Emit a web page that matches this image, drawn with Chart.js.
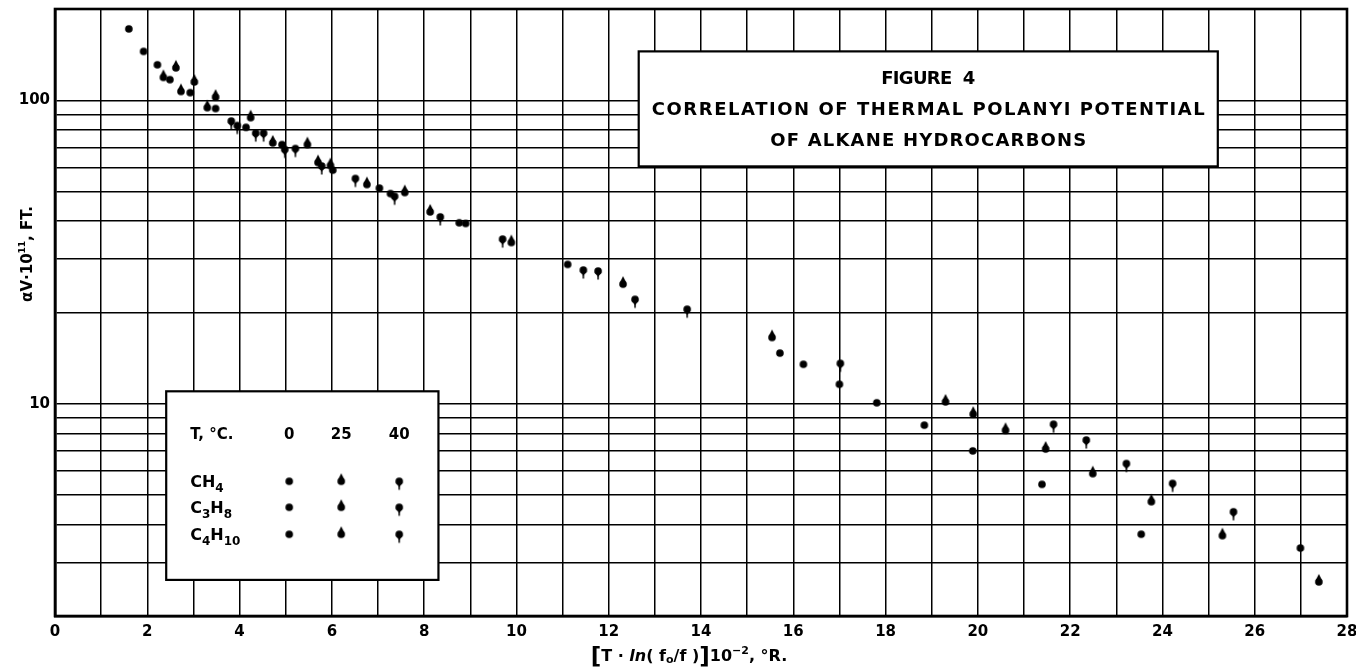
<!DOCTYPE html>
<html>
<head>
<meta charset="utf-8">
<script src="https://cdn.jsdelivr.net/npm/chart.js@4.4.1/dist/chart.umd.min.js"></script>
<style>
  html, body { margin: 0; padding: 0; background: #fff; }
  #wrap { width: 1356px; height: 672px; }
</style>
</head>
<body>
<div id="wrap"><canvas id="chart" width="1356" height="672"></canvas></div>
<script>
// ========================== DATA ==========================
// T = 0 °C  (plain dots)
const t0X = [1.60, 1.92, 2.22, 2.49, 2.93, 3.48, 4.14, 4.92, 6.02, 7.03, 7.27, 8.76, 8.90, 11.11,
             15.71, 16.22, 17.00, 17.81, 18.84, 19.89, 21.39, 23.54, 26.99];
const t0Y = [172, 145, 131, 117, 106, 94, 81.5, 71.5, 58.9, 51.4, 49.3, 39.5, 39.3, 28.8,
             14.7, 13.5, 11.6, 10.08, 8.51, 7.0, 5.43, 3.72, 3.35];

// T = 25 °C  (dot with point on top)
const t25X = [2.35, 2.62, 2.73, 3.02, 3.30, 3.48, 4.24, 4.72, 5.47, 5.70, 5.97, 6.76, 7.58, 8.13,
              9.89, 12.31, 15.54, 19.30, 19.90, 20.60, 21.47, 22.49, 23.76, 25.30, 27.39];
const t25Y = [119, 128, 107, 115, 94.6, 102.5, 87.7, 72.4, 71.5, 62.4, 61, 52.8, 49.7, 42.9,
              34.0, 24.8, 16.55, 10.15, 9.25, 8.18, 7.1, 5.89, 4.76, 3.68, 2.59];

// T = 40 °C  (dot with tail below)
const t40X = [3.82, 3.95, 4.35, 4.52, 4.98, 5.21, 5.78, 6.51, 7.36, 8.35, 9.70, 11.45, 11.77,
              12.57, 13.70, 17.02, 21.64, 22.35, 23.22, 24.22, 25.54];
const t40Y = [85.5, 82.6, 78, 78, 68.9, 69.4, 60.8, 55.3, 48.3, 41.3, 34.9, 27.6, 27.4,
              22.1, 20.5, 13.6, 8.57, 7.6, 6.36, 5.47, 4.41];

// axes
const xGridValues = [0,1,2,3,4,5,6,7,8,9,10,11,12,13,14,15,16,17,18,19,20,21,22,23,24,25,26,27,28];
const xLabelValues = [0,2,4,6,8,10,12,14,16,18,20,22,24,26,28];
const yGridValues = [2,3,4,5,6,7,8,9,10,20,30,40,50,60,70,80,90,100,200];
const yLabelValues = [10, 100];

// texts
const titleLines = ["FIGURE  4", "CORRELATION OF THERMAL POLANYI POTENTIAL", "OF ALKANE HYDROCARBONS"];
const tempLabels = ["0", "25", "40"];
const gasLabels = ["CH4", "C3H8", "C4H10"];

// ========================== HELPERS ==========================
const FONT = "'DejaVu Sans', sans-serif";

function pts(xs, ys) {
  return xs.map((x, i) => ({ x, y: ys[i] }));
}

function makeMarker(kind) {
  const c = document.createElement("canvas");
  c.width = 12; c.height = 20;
  const g = c.getContext("2d");
  const cx = 6, cy = 10, r = 3.8;
  g.fillStyle = "#000"; g.strokeStyle = "#000";
  g.beginPath(); g.arc(cx, cy, r, 0, Math.PI * 2); g.fill();
  if (kind === "up") {
    g.beginPath();
    g.moveTo(cx - r * 0.9, cy - 1.2);
    g.lineTo(cx, cy - 8);
    g.lineTo(cx + r * 0.9, cy - 1.2);
    g.closePath(); g.fill();
  }
  if (kind === "down") {
    g.beginPath();
    g.moveTo(cx - r * 0.9, cy + 1.2);
    g.lineTo(cx, cy + 6);
    g.lineTo(cx + r * 0.9, cy + 1.2);
    g.closePath(); g.fill();
    g.lineWidth = 1.5;
    g.beginPath(); g.moveTo(cx, cy); g.lineTo(cx, cy + 8.5); g.stroke();
  }
  return c;
}

const markers = [makeMarker("dot"), makeMarker("up"), makeMarker("down")];

// draw text stretched to a given width (lettering look)
function fitText(g, text, cx, cy, width) {
  g.letterSpacing = "0px";
  const w = g.measureText(text).width;
  const sp = (width - w) / (text.length - 1);
  g.letterSpacing = sp + "px";
  g.textAlign = "left";
  g.fillText(text, cx - width / 2, cy);
  g.letterSpacing = "0px";
}

// parts: {t, size, dy, italic}
function drawParts(g, parts, x, y, align) {
  const widths = parts.map(p => {
    g.font = (p.italic ? "italic " : "") + "bold " + p.size + "px " + FONT;
    return g.measureText(p.t).width;
  });
  const total = widths.reduce((a, b) => a + b, 0);
  let px = align === "center" ? x - total / 2 : x;
  g.textAlign = "left";
  parts.forEach((p, i) => {
    g.font = (p.italic ? "italic " : "") + "bold " + p.size + "px " + FONT;
    g.fillText(p.t, px, y + (p.dy || 0));
    px += widths[i];
  });
}

function formulaParts(s, size) {
  return s.match(/\D+|\d+/g).map(seg =>
    /\d/.test(seg) ? { t: seg, size: size - 4, dy: 5 } : { t: seg, size });
}

// ========================== ANNOTATIONS ==========================
const annotations = {
  id: "annotations",
  beforeDatasetsDraw(chart) {
    const g = chart.ctx;
    const xs = chart.scales.x, ys = chart.scales.y;
    g.save();
    g.fillStyle = "#fff"; g.strokeStyle = "#000"; g.lineWidth = 2.2;

    // title box
    const tl = xs.getPixelForValue(12.65), tr = xs.getPixelForValue(25.2);
    const tt = ys.getPixelForValue(145), tb = ys.getPixelForValue(60.6);
    g.fillRect(tl, tt, tr - tl, tb - tt);
    g.strokeRect(tl, tt, tr - tl, tb - tt);

    // legend box
    const ll = xs.getPixelForValue(2.41), lr = xs.getPixelForValue(8.31);
    const lt = ys.getPixelForValue(11.0), lb = ys.getPixelForValue(2.63);
    g.fillRect(ll, lt, lr - ll, lb - lt);
    g.strokeRect(ll, lt, lr - ll, lb - lt);

    g.fillStyle = "#000";
    g.textBaseline = "middle";
    const cx = (tl + tr) / 2;
    g.font = "bold 18px " + FONT;
    fitText(g, titleLines[0], cx, tt + 28, 94);
    fitText(g, titleLines[1], cx, tt + 59, 553);
    fitText(g, titleLines[2], cx, tt + 90, 316);

    // legend content
    g.textBaseline = "alphabetic";
    g.font = "bold 15px " + FONT;
    g.textAlign = "left";
    g.fillText("T, °C.", ll + 24, lt + 48);
    const cols = [ll + 123, ll + 175, ll + 233];
    g.textAlign = "center";
    tempLabels.forEach((t, i) => g.fillText(t, cols[i], lt + 48));
    const rows = [lt + 90, lt + 116, lt + 143];
    gasLabels.forEach((s, r) => {
      drawParts(g, formulaParts(s, 16), ll + 24, rows[r] + 6, "left");
      markers.forEach((m, i) => g.drawImage(m, cols[i] - m.width / 2, rows[r] - m.height / 2));
    });
    g.restore();
  },
  afterDraw(chart) {
    const g = chart.ctx;
    const a = chart.chartArea;
    g.save();
    g.strokeStyle = "#000"; g.lineWidth = 2.6;
    g.strokeRect(a.left, a.top, a.right - a.left, a.bottom - a.top);

    g.fillStyle = "#000";
    g.textBaseline = "alphabetic";
    // x axis title
    drawParts(g, [
      { t: "[", size: 23, dy: 3 },
      { t: "T · ", size: 16 },
      { t: "ln", size: 16, italic: true },
      { t: "( f", size: 16 },
      { t: "o", size: 11, dy: 2 },
      { t: "/f )", size: 16 },
      { t: "]", size: 23, dy: 3 },
      { t: "10", size: 16 },
      { t: "−2", size: 11, dy: -7 },
      { t: ", °R.", size: 16 }
    ], 689, 661, "center");

    // y axis title
    g.translate(27, 254);
    g.rotate(-Math.PI / 2);
    drawParts(g, [
      { t: "αV·10", size: 15 },
      { t: "11", size: 9, dy: -7 },
      { t: ", FT.", size: 15 }
    ], 0, 5, "center");
    g.restore();
  }
};

// ========================== CHART ==========================
const dsBase = { showLine: false, pointRadius: 4, pointHoverRadius: 4 };

new Chart(document.getElementById("chart"), {
  type: "scatter",
  data: {
    datasets: [
      { ...dsBase, label: "0 °C", data: pts(t0X, t0Y), pointStyle: markers[0] },
      { ...dsBase, label: "25 °C", data: pts(t25X, t25Y), pointStyle: markers[1] },
      { ...dsBase, label: "40 °C", data: pts(t40X, t40Y), pointStyle: markers[2] }
    ]
  },
  options: {
    responsive: false,
    animation: false,
    layout: { padding: { top: 9, right: 9, left: 0, bottom: 0 } },
    plugins: { legend: { display: false }, tooltip: { enabled: false } },
    scales: {
      x: {
        type: "linear", min: 0, max: 28,
        afterBuildTicks: s => { s.ticks = xGridValues.map(v => ({ value: v })); },
        afterFit: s => { s.height = 56; s.paddingLeft = 0; s.paddingRight = 0; },
        ticks: {
          autoSkip: false, maxRotation: 0, padding: 7, color: "#000",
          font: { family: FONT, size: 15, weight: "bold" },
          callback: v => xLabelValues.includes(v) ? String(v) : ""
        },
        grid: { color: "#000", lineWidth: 1.5, drawTicks: false },
        border: { color: "#000", width: 2.6 }
      },
      y: {
        type: "logarithmic", min: 2, max: 200,
        afterBuildTicks: s => { s.ticks = yGridValues.map(v => ({ value: v })); },
        afterFit: s => { s.width = 55; s.paddingTop = 0; s.paddingBottom = 0; },
        ticks: {
          autoSkip: false, padding: 5, color: "#000",
          font: { family: FONT, size: 15, weight: "bold" },
          callback: v => yLabelValues.includes(v) ? String(v) : ""
        },
        grid: { color: "#000", lineWidth: 1.5, drawTicks: false },
        border: { color: "#000", width: 2.6 }
      }
    }
  },
  plugins: [annotations]
});
</script>
</body>
</html>
